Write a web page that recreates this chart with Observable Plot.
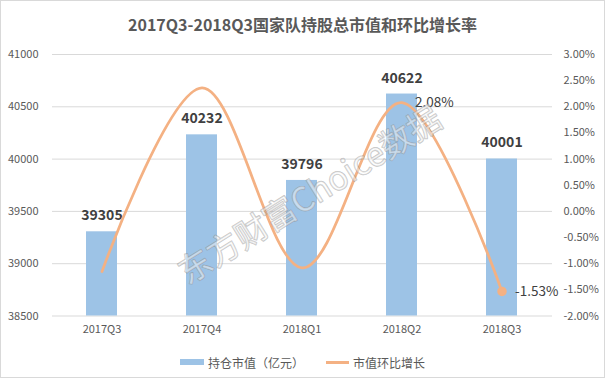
<!DOCTYPE html>
<html><head><meta charset="utf-8">
<script src="https://cdn.jsdelivr.net/npm/d3@7"></script>
<script src="https://cdn.jsdelivr.net/npm/@observablehq/plot@0.6"></script>
<style>
body{margin:0;background:#fff;}
#wrap{position:relative;width:605px;height:378px;overflow:hidden;font-family:"Noto Sans CJK SC","Microsoft YaHei",sans-serif;background:#fff;}
#frame{position:absolute;left:0;top:0;width:605px;height:378px;box-sizing:border-box;border:1px solid #d9d9d9;pointer-events:none;}
#title{position:absolute;left:0;width:605px;top:14px;line-height:21px;text-align:center;font-weight:bold;font-size:16px;color:#595959;}
#legend{position:absolute;left:0;width:605px;top:353px;height:18px;display:flex;justify-content:center;align-items:center;font-size:12px;color:#595959;}
.item{display:flex;align-items:center;}
.sw{display:inline-block;margin-right:4px;}
#chart{position:absolute;left:0;top:0;}
</style></head>
<body>
<div id="wrap">
  <div id="chart"></div>
  <div id="title"></div>
  <div id="legend"></div>
  <div id="frame"></div>
</div>
<script>
const quarters = ["2017Q3","2017Q4","2018Q1","2018Q2","2018Q3"];
const marketValue = [39305,40232,39796,40622,40001];
const growthPct = [-1.15,2.36,-1.08,2.08,-1.53];
const growthLabelShown = [false,false,false,true,true];
const growthMarkerShown = [false,false,false,false,true];
const leftTicks = [38500,39000,39500,40000,40500,41000];
const rightTickPct = [-2,-1.5,-1,-0.5,0,0.5,1,1.5,2,2.5,3];
const seriesNames = ["持仓市值（亿元）","市值环比增长"];
const titleText = "2017Q3-2018Q3国家队持股总市值和环比增长率";
const watermark = "东方财富Choice数据";

const barColor = "#9dc3e6", lineColor = "#f4b183";
const yMin = 38500, yMax = 41000, pMin = -2, pMax = 3;
const pctToY = p => yMin + (p - pMin) / (pMax - pMin) * (yMax - yMin);
const yToPct = v => pMin + (v - yMin) / (yMax - yMin) * (pMax - pMin);

const data = quarters.map((q, i) => ({
  q, v: marketValue[i], g: growthPct[i], gy: pctToY(growthPct[i]),
  lab: growthLabelShown[i], mark: growthMarkerShown[i]
}));

const font = '"Noto Sans CJK SC","Microsoft YaHei",sans-serif';
const chart = Plot.plot({
  width: 605, height: 378,
  marginLeft: 52, marginRight: 53, marginTop: 54, marginBottom: 62.5,
  style: {fontFamily: font, fontSize: "11px", color: "#595959", background: "transparent"},
  x: {domain: quarters, paddingInner: 0.69, paddingOuter: 0.345, label: null},
  y: {domain: [yMin, yMax], label: null},
  marks: [
    Plot.gridY(leftTicks, {stroke: "#d9d9d9", strokeOpacity: 1}),
    Plot.axisY({ticks: leftTicks, tickSize: 0, tickPadding: 14, label: null, fill: "#595959", tickFormat: d => String(d)}),
    Plot.axisY({anchor: "right", ticks: rightTickPct.map(pctToY), tickFormat: d => yToPct(d).toFixed(2) + "%", tickSize: 0, tickPadding: 11, label: null, fill: "#595959"}),
    Plot.axisX({tickSize: 0, tickPadding: 9, label: null, fill: "#595959"}),
    Plot.barY(data, {x: "q", y1: yMin, y2: "v", fill: barColor}),
    Plot.text(data, {x: "q", y: "v", text: d => String(d.v), dy: -16, fontWeight: "bold", fontSize: 14, fill: "#404040"}),
    Plot.line(data, {x: "q", y: "gy", curve: "cardinal", stroke: lineColor, strokeWidth: 2.75}),
    Plot.dot(data.filter(d => d.mark), {x: "q", y: "gy", r: 4, fill: lineColor, stroke: lineColor}),
    Plot.text(data.filter(d => d.lab), {x: "q", y: "gy", text: d => d.g.toFixed(2) + "%", textAnchor: "start", dx: 13, fontSize: 13.5, fill: "#404040"}),
    Plot.text([watermark], {frameAnchor: "middle", dx: 8, dy: 11, rotate: -32, text: d => d, fontSize: 33, fill: "white", fillOpacity: 0.45, stroke: "#8a8a8a", strokeOpacity: 0.5, strokeWidth: 1.3})
  ]
});
document.getElementById("chart").appendChild(chart);
document.getElementById("title").textContent = titleText;

const legend = document.getElementById("legend");
seriesNames.forEach((name, i) => {
  const item = document.createElement("div");
  item.className = "item";
  if (i > 0) item.style.marginLeft = "22px";
  const sw = document.createElement("span");
  sw.className = "sw";
  if (i === 0) { sw.style.width = "24px"; sw.style.height = "6px"; sw.style.background = barColor; }
  else { sw.style.width = "23px"; sw.style.height = "3px"; sw.style.background = lineColor; }
  const t = document.createElement("span");
  t.textContent = name;
  item.appendChild(sw); item.appendChild(t);
  legend.appendChild(item);
});
</script>
</body></html>
